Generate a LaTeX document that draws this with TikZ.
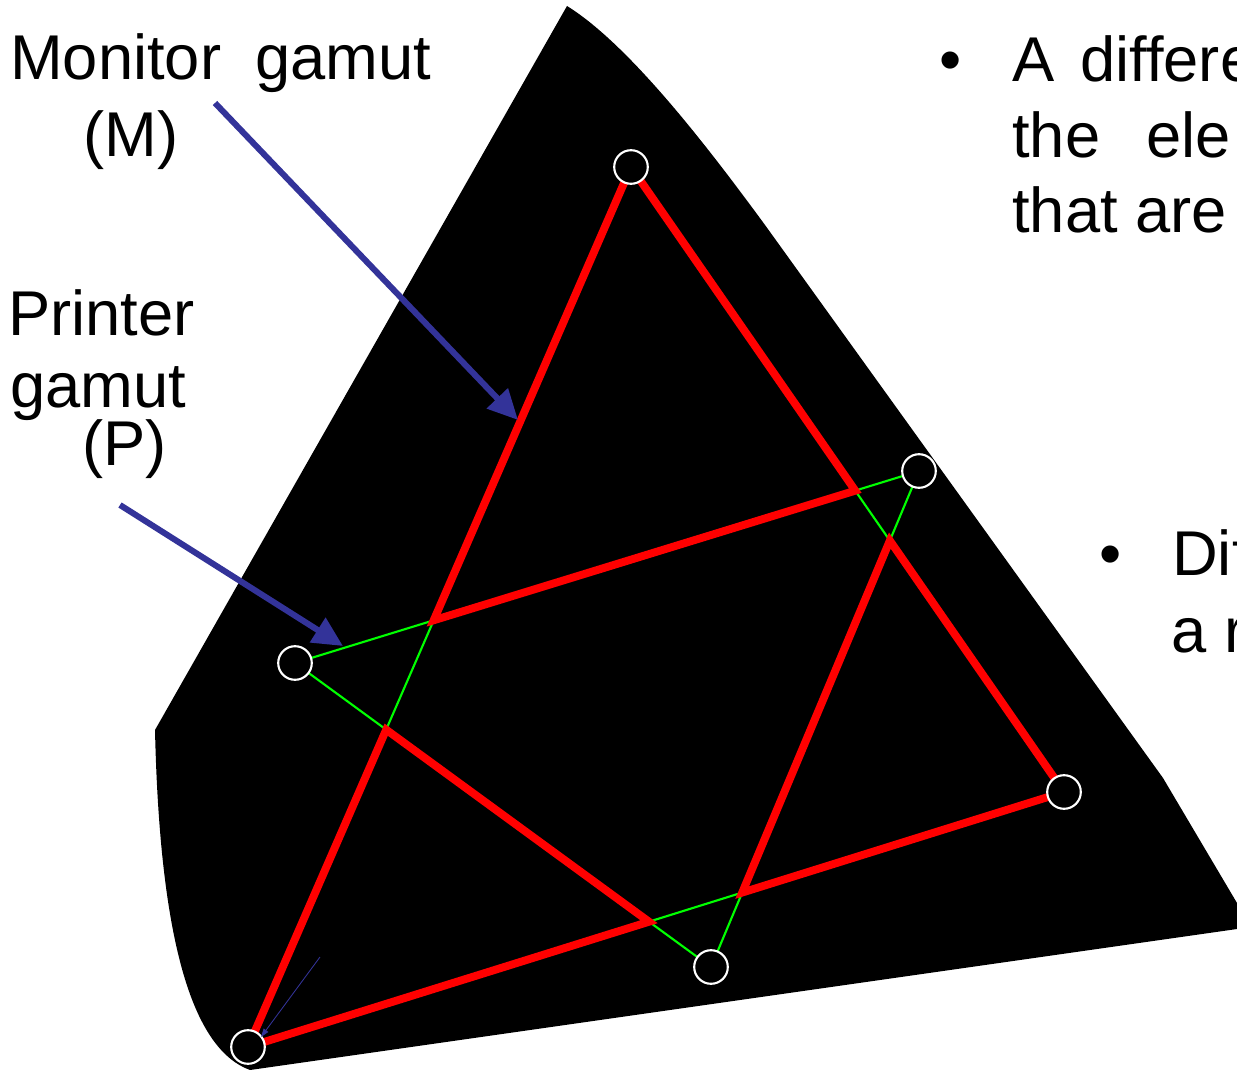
\documentclass[tikz,border=0pt]{standalone}
\usepackage{fontspec}
\setmainfont{Liberation Sans}
\usetikzlibrary{arrows.meta}
\definecolor{azulflecha}{RGB}{51,51,153}
\definecolor{verde}{RGB}{0,255,0}

\begin{document}
\begin{tikzpicture}[x=0.025cm,y=-0.025cm, % 1 unidad = 1 pixel de la figura
    texto/.style={anchor=base west,inner sep=0pt,font=\fontsize{45}{54}\selectfont},
    vertice/.style={circle,draw=white,fill=black,line width=1.5pt,minimum size=0.84cm,inner sep=0pt},
    borde/.style={draw=red,line width=5.6pt},
    lado/.style={draw=verde,line width=1.5pt},
    indicador/.style={draw=azulflecha,line width=4.3pt,-{Triangle[length=0.75cm,width=0.7cm]}}]

    \clip (0,0) rectangle (1237,1070);

    % Región negra (diagrama de cromaticidad)
    \fill[black] (567,6) .. controls (630,45) and (710,150) .. (765,225)
        -- (1163,778) -- (1237,903) -- (1237,929) -- (250,1070)
        .. controls (195,1050) and (160,950) .. (155,730) -- cycle;

    % Vértices: monitor (m) e impresora (p)
    \coordinate (m1) at (631,167);
    \coordinate (m2) at (248,1047);
    \coordinate (m3) at (1064,792);
    \coordinate (p1) at (295,663);
    \coordinate (p2) at (919,471);
    \coordinate (p3) at (711,967);

    % Cortes entre los lados de los dos triángulos
    \coordinate (a1) at (intersection of m1--m2 and p1--p2);
    \coordinate (a2) at (intersection of m1--m3 and p1--p2);
    \coordinate (b1) at (intersection of m1--m3 and p2--p3);
    \coordinate (b2) at (intersection of m2--m3 and p2--p3);
    \coordinate (c1) at (intersection of m1--m2 and p3--p1);
    \coordinate (c2) at (intersection of m2--m3 and p3--p1);

    % Triángulos en verde
    \draw[lado] (m1) -- (m2) -- (m3) -- cycle;
    \draw[lado] (p1) -- (p2) -- (p3) -- cycle;

    % Partes del gamut del monitor fuera de la impresora
    \draw[borde] (m1) -- (a1) -- (a2) -- cycle;
    \draw[borde] (m3) -- (b1) -- (b2) -- cycle;
    \draw[borde] (m2) -- (c1) -- (c2) -- cycle;

    % Círculos en los vértices
    \node[vertice] (vm1) at (m1) {};
    \node[vertice] (vm2) at (m2) {};
    \node[vertice] (vm3) at (m3) {};
    \node[vertice] (vp1) at (p1) {};
    \node[vertice] (vp2) at (p2) {};
    \node[vertice] (vp3) at (p3) {};

    % Etiquetas
    \node[texto] (monitor) at (10,80) {Monitor\hspace{0.85cm}gamut};
    \node[texto] (letraM) at (83,157) {(M)};
    \node[texto] (printer) at (8,335) {Printer};
    \node[texto] (gamutP) at (10,407) {gamut};
    \node[texto] (letraP) at (82,465) {(P)};

    % Texto de la derecha (cortado por el borde)
    \node[texto] (bala1) at (939,82) {•};
    \node[texto] (linea1) at (1012,82) {A\hspace{0.65cm}differe};
    \node[texto] (linea2) at (1012,158) {the\hspace{1.15cm}ele};
    \node[texto] (linea3) at (1012,233) {that are};
    \node[texto] (bala2) at (1099,575) {•};
    \node[texto] (linea4) at (1172,575) {Dif};
    \node[texto] (linea5) at (1171,652) {a r};

    % Flechas
    \coordinate (fm) at (215,103);
    \coordinate (fmfin) at (518,420);
    \coordinate (fp) at (120,505);
    \coordinate (fpfin) at (343,646);
    \coordinate (fb) at (320,957);
    \coordinate (fbfin) at (261,1037);
    \draw[indicador] (fm) -- (fmfin);
    \draw[indicador] (fp) -- (fpfin);
    \draw[azulflecha,line width=0.6pt,-{Triangle[length=6pt,width=4pt]}] (fb) -- (fbfin);
\end{tikzpicture}
\end{document}
